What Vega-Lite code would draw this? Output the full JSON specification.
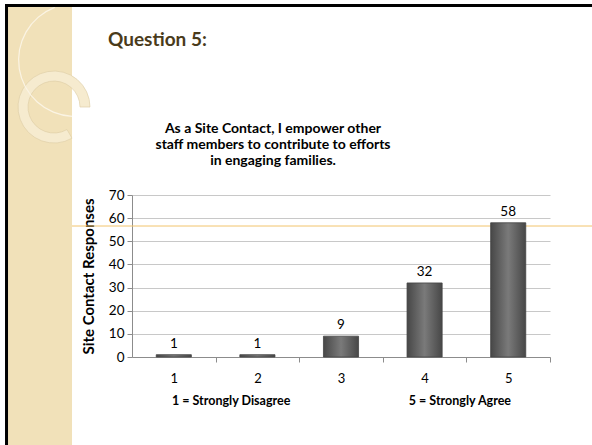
{
  "$schema": "https://vega.github.io/schema/vega-lite/v6.json",
  "width": 418,
  "height": 162,
  "autosize": {"type": "none"},
  "padding": {"left": 132, "top": 195, "right": 42, "bottom": 88},
  "background": "white",
  "config": {"font": "Lato", "view": {"stroke": null}},
  "resolve": {"scale": {"x": "independent", "y": "independent"}},
  "layer": [
    {
      "data": {"values": [{}]},
      "mark": {"type": "rect", "fill": "#f1e1b9", "clip": false},
      "encoding": {
        "x": {"datum": -29.67, "type": "quantitative", "scale": {"domain": [0, 100]}, "axis": null},
        "x2": {"datum": -14.35},
        "y": {"datum": 216, "type": "quantitative", "scale": {"domain": [0, 100]}, "axis": null},
        "y2": {"datum": -54.3}
      }
    },
    {
      "data": {"values": [{}]},
      "mark": {"type": "arc", "radius": 36, "radius2": 26, "theta": 2.618, "theta2": 7.854, "fill": "#f6ebcf", "stroke": "#dccba2", "strokeWidth": 0.6, "clip": false},
      "encoding": {
        "x": {"datum": -18.66, "type": "quantitative", "scale": {"domain": [0, 100]}, "axis": null},
        "y": {"datum": 154.3, "type": "quantitative", "scale": {"domain": [0, 100]}, "axis": null}
      }
    },
    {
      "data": {"values": [{}]},
      "mark": {"type": "arc", "radius": 57, "radius2": 55.8, "theta": 3.194, "theta2": 5.917, "fill": "#fbf4e4", "clip": false},
      "encoding": {
        "x": {"datum": -13.64, "type": "quantitative", "scale": {"domain": [0, 100]}, "axis": null},
        "y": {"datum": 183.3, "type": "quantitative", "scale": {"domain": [0, 100]}, "axis": null}
      }
    },
    {
      "data": {"values": [{}]},
      "mark": {"type": "rect", "filled": false, "stroke": "black", "strokeWidth": 3, "clip": false},
      "encoding": {
        "x": {"datum": -30.02, "type": "quantitative", "scale": {"domain": [0, 100]}, "axis": null},
        "x2": {"datum": 112},
        "y": {"datum": 217.0, "type": "quantitative", "scale": {"domain": [0, 100]}, "axis": null},
        "y2": {"datum": -58.6}
      }
    },
    {
      "data": {"values": [{"label": "Question 5:"}]},
      "mark": {"type": "text", "align": "left", "baseline": "alphabetic", "fontSize": 19, "fontWeight": "bold", "color": "#4a3b1b", "font": "Lato", "clip": false},
      "encoding": {
        "x": {"datum": -5.74, "type": "quantitative", "scale": {"domain": [0, 100]}, "axis": null},
        "y": {"datum": 192.0, "type": "quantitative", "scale": {"domain": [0, 100]}, "axis": null},
        "text": {"field": "label"}
      }
    },
    {
      "data": {"values": [{"label": ["As a Site Contact, I empower other", "staff members to contribute to efforts", "in engaging families."]}]},
      "mark": {"type": "text", "align": "center", "baseline": "alphabetic", "fontSize": 14, "fontWeight": "bold", "lineHeight": 16, "color": "black", "font": "Lato", "clip": false},
      "encoding": {
        "x": {"datum": 33.73, "type": "quantitative", "scale": {"domain": [0, 100]}, "axis": null},
        "y": {"datum": 138.3, "type": "quantitative", "scale": {"domain": [0, 100]}, "axis": null},
        "text": {"field": "label"}
      }
    },
    {
      "data": {"values": [{}]},
      "mark": {"type": "rule", "stroke": "#f2c46d", "strokeWidth": 1, "clip": false},
      "encoding": {
        "x": {"datum": -14.35, "type": "quantitative", "scale": {"domain": [0, 100]}, "axis": null},
        "x2": {"datum": 110.05},
        "y": {"datum": 80.86, "type": "quantitative", "scale": {"domain": [0, 100]}, "axis": null}
      }
    },
    {
      "data": {"values": [
        {"rating": "1", "count": 1},
        {"rating": "2", "count": 1},
        {"rating": "3", "count": 9},
        {"rating": "4", "count": 32},
        {"rating": "5", "count": 58}
      ]},
      "resolve": {"scale": {"x": "shared", "y": "shared"}},
      "encoding": {
        "x": {
          "field": "rating", "type": "nominal",
          "scale": {"paddingInner": 0.58, "paddingOuter": 0.29},
          "axis": {
            "labelAngle": 0,
            "tickOffset": 41.8,
            "labelOffset": -41.8,
            "grid": false,
            "domainColor": "#8c8c8c",
            "tickColor": "#8c8c8c",
            "tickSize": 5,
            "labelPadding": 10,
            "labelFontSize": 13,
            "labelColor": "black",
            "title": "1 = Strongly Disagree\u00a0\u00a0\u00a0\u00a0\u00a0\u00a0\u00a0\u00a0\u00a0\u00a0\u00a0\u00a0\u00a0\u00a0\u00a0\u00a0\u00a0\u00a0\u00a0\u00a0\u00a0\u00a0\u00a0\u00a0\u00a0\u00a0\u00a0\u00a0\u00a0\u00a0\u00a0\u00a0\u00a0\u00a0\u00a0\u00a0\u00a0\u00a0\u00a05 = Strongly Agree",
            "titleFontSize": 12.5,
            "titleFontWeight": "bold",
            "titleColor": "black",
            "titlePadding": 9
          }
        },
        "y": {
          "field": "count", "type": "quantitative",
          "scale": {"domain": [0, 70]},
          "axis": {
            "values": [0, 10, 20, 30, 40, 50, 60, 70],
            "grid": true,
            "gridColor": "#c8c8c8",
            "domainColor": "#8c8c8c",
            "tickColor": "#8c8c8c",
            "tickSize": 5,
            "labelPadding": 3,
            "labelFontSize": 13.5,
            "labelColor": "black",
            "title": "Site Contact Responses",
            "titleFontSize": 15,
            "titleFontWeight": "bold",
            "titleColor": "black",
            "titlePadding": 12
          }
        }
      },
      "layer": [
        {
          "mark": {
            "type": "bar",
            "stroke": "#444444",
            "strokeWidth": 0.8,
            "color": {
              "gradient": "linear", "x1": 0, "x2": 1, "y1": 0, "y2": 0,
              "stops": [
                {"offset": 0, "color": "#474747"},
                {"offset": 0.5, "color": "#7a7a7a"},
                {"offset": 1, "color": "#474747"}
              ]
            }
          }
        },
        {
          "mark": {"type": "text", "baseline": "bottom", "dy": -4, "fontSize": 13.5, "color": "black"},
          "encoding": {
            "text": {"field": "count"}
          }
        }
      ]
    }
  ]
}
